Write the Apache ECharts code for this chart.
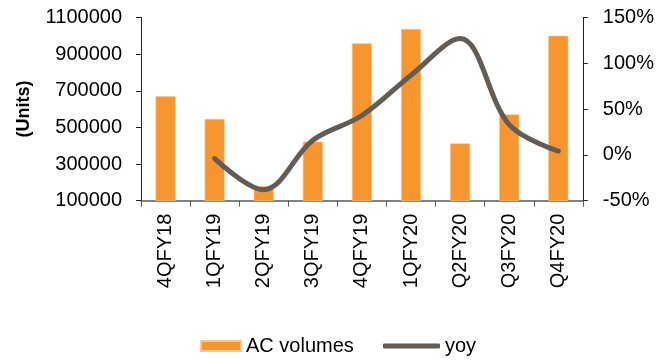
<!DOCTYPE html>
<html lang="en">
<head>
    <meta charset="UTF-8">
    <title>AC volumes</title>
    <script src="https://cdn.jsdelivr.net/npm/echarts@6.0.0/dist/echarts.min.js"></script>
    <style>
        html, body { margin: 0; padding: 0; background: #fff; }
    </style>
</head>
<body>
    <div id="main" style="width: 657px; height: 360px;"></div>

    <script type="text/javascript">
        // data
        const quarters = ['4QFY18', '1QFY19', '2QFY19', '3QFY19', '4QFY19', '1QFY20', 'Q2FY20', 'Q3FY20', 'Q4FY20']
        const acVolumes = [670000, 546000, 180000, 422000, 959000, 1037000, 413000, 571000, 1000000]
        const yoy = [null, -4, -38, 16, 43, 87, 127, 33, 4]   // percent
        const unitTicks = [100000, 1100000, 200000]            // min, max, step
        const pctTicks = [-50, 150, 50]

        const font = 'Liberation Sans, Arial, sans-serif'

        let myChart = echarts.init(document.getElementById('main'))

        let options = {
            animation: false,
            textStyle: {fontFamily: font},
            grid: {left: 141, right: 70, top: 17.5, bottom: 159.3, containLabel: false},
            legend: [{
                left: 200, top: 336, padding: 0,
                itemWidth: 40, itemHeight: 10,
                textStyle: {fontSize: 20, color: '#000', fontFamily: font},
                data: [{name: 'AC volumes', icon: 'rect'}]
            }, {
                left: 383, top: 336, padding: 0,
                itemWidth: 57, itemHeight: 5,
                textStyle: {fontSize: 20, color: '#000', fontFamily: font},
                data: [{name: 'yoy', icon: 'roundRect'}]
            }],
            xAxis: {
                type: 'category',
                data: quarters,
                axisLine: {onZero: false, lineStyle: {color: '#595959', width: 1.5}},
                axisTick: {show: true, length: 6, lineStyle: {color: '#595959'}},
                axisLabel: {rotate: 90, fontSize: 20, color: '#000', margin: 13, fontFamily: font}
            },
            yAxis: [{
                type: 'value',
                min: unitTicks[0], max: unitTicks[1], interval: unitTicks[2],
                name: '(Units)',
                nameLocation: 'middle',
                nameRotate: 90,
                nameGap: 108,
                nameTextStyle: {fontSize: 18, fontWeight: 'bold', color: '#000', fontFamily: font},
                splitLine: {show: false},
                axisLine: {show: true, lineStyle: {color: '#222'}},
                axisTick: {show: true, length: 5, lineStyle: {color: '#222'}},
                axisLabel: {fontSize: 20, color: '#000', margin: 19, fontFamily: font,
                    formatter: v => String(v)}
            }, {
                type: 'value',
                min: pctTicks[0], max: pctTicks[1], interval: pctTicks[2],
                splitLine: {show: false},
                axisLine: {show: true, lineStyle: {color: '#222'}},
                axisTick: {show: true, length: 5, lineStyle: {color: '#222'}},
                axisLabel: {fontSize: 20, color: '#000', margin: 20, formatter: '{value}%', fontFamily: font}
            }],
            series: [{
                name: 'AC volumes',
                type: 'bar',
                barWidth: 20,
                itemStyle: {color: '#F7962F', borderColor: '#FBC58C', borderWidth: 0.6},
                data: acVolumes
            }, {
                name: 'yoy',
                type: 'line',
                yAxisIndex: 1,
                smooth: 0.35,
                symbol: 'none',
                lineStyle: {color: '#635B56', width: 5, cap: 'round'},
                itemStyle: {color: '#635B56'},
                data: yoy
            }]
        }

        myChart.setOption(options)
    </script>
</body>
</html>
